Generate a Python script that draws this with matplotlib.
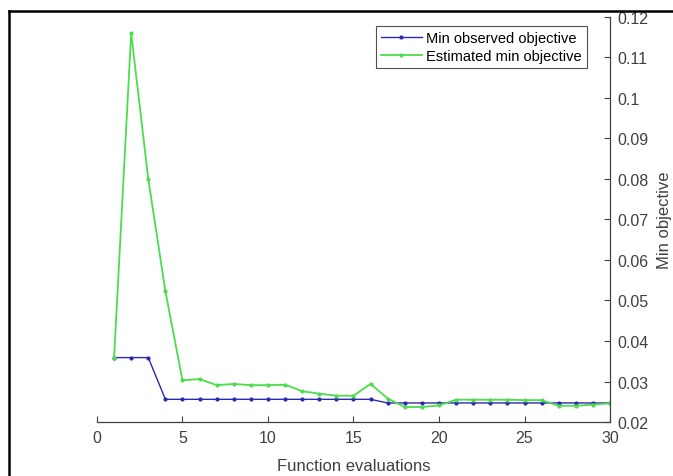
import numpy as np
import matplotlib.pyplot as plt
from matplotlib.lines import Line2D
from matplotlib.ticker import FuncFormatter

plt.rcParams['font.family'] = ['Liberation Sans', 'DejaVu Sans']

# data
evals = list(range(1, 31))
min_observed = [0.0359, 0.0359, 0.0359] + [0.0256] * 13 + [0.0247] * 14
est_min = [0.0359, 0.1160, 0.0800, 0.0523, 0.0303, 0.0306, 0.0291, 0.0294,
           0.0291, 0.0291, 0.0292, 0.0276, 0.0270, 0.0265, 0.0265, 0.0294,
           0.0258, 0.0237, 0.0237, 0.0241, 0.0255, 0.0255, 0.0255, 0.0255,
           0.0254, 0.0254, 0.0240, 0.0240, 0.0243, 0.0246]

blue = '#2a2ab0'
green = '#4cdc4c'
grey = '#404040'

fig = plt.figure(figsize=(6.73, 4.77), dpi=100)
ax = fig.add_axes([0.1441, 0.1132, 0.7623, 0.8491])

ax.plot(evals, min_observed, color=blue, lw=1.0, marker='.', ms=4,
        label='Min observed objective')
ax.plot(evals, est_min, color=green, lw=1.3, marker='.', ms=4,
        label='Estimated min objective')

ax.set_xlim(0, 30)
ax.set_ylim(0.02, 0.12)
ax.set_xticks([0, 5, 10, 15, 20, 25, 30])
ax.set_yticks(np.arange(0.02, 0.1201, 0.01))
ax.yaxis.set_major_formatter(FuncFormatter(lambda v, p: '%g' % round(v, 3)))

ax.yaxis.tick_right()
ax.yaxis.set_label_position('right')
for s in ['top', 'left']:
    ax.spines[s].set_visible(False)
for s in ['bottom', 'right']:
    ax.spines[s].set_color(grey)
    ax.spines[s].set_linewidth(0.9)
ax.tick_params(direction='in', length=4, colors=grey, labelsize=11.5)
ax.tick_params(axis='x', pad=6)
ax.tick_params(axis='y', pad=5)

ax.set_xlabel('Function evaluations', fontsize=12, color=grey, labelpad=9)
ax.set_ylabel('Min objective', fontsize=12, color=grey, labelpad=6)

leg = ax.legend(loc='upper right', bbox_to_anchor=(0.955, 0.978),
                fontsize=10.5, frameon=True, fancybox=False, handlelength=2.8,
                borderpad=0.35, labelspacing=0.3, handletextpad=0.3,
                borderaxespad=0)
leg.get_frame().set_edgecolor('#262626')
leg.get_frame().set_linewidth(0.8)

# screenshot border on top and left
fig.add_artist(Line2D([9 / 673, 1], [1 - 12 / 477, 1 - 12 / 477],
                      color='black', lw=1.8, transform=fig.transFigure))
fig.add_artist(Line2D([9 / 673, 9 / 673], [0, 1 - 12 / 477],
                      color='black', lw=1.8, transform=fig.transFigure))

fig.savefig('out.png', dpi=100)
